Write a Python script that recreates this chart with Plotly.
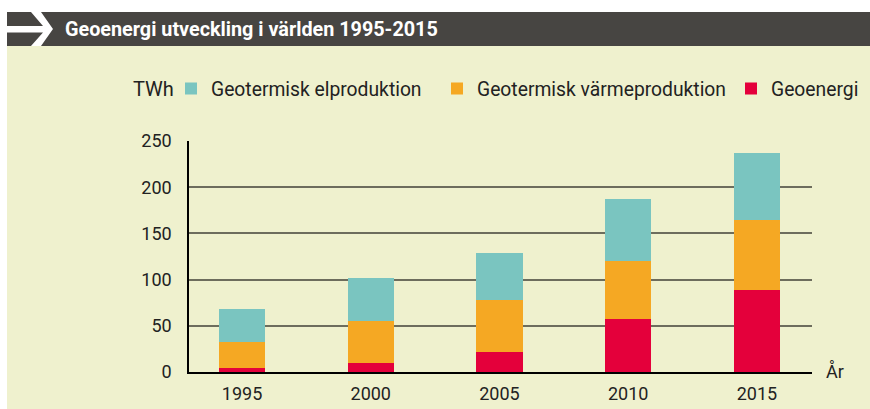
import plotly.graph_objects as go

years = [1995, 2000, 2005, 2010, 2015]
geoenergi = [4, 10, 22, 57, 89]
varme = [29, 45, 56, 63, 75]
el = [35, 47, 51, 67, 73]
series_names = ["Geoenergi", "Geotermisk värmeproduktion", "Geotermisk elproduktion"]
y_ticks = [0, 50, 100, 150, 200, 250]
title_text = "Geoenergi utveckling i världen 1995-2015"
unit_label = "TWh"
x_label = "År"

W, H = 870, 409
L, R, T, B = 189, 58, 141, 37
PW, PH = W - L - R, H - T - B

def px(x):
    return (x - L) / PW

def py(y):
    return (H - B - y) / PH

BG = "#EFF1CE"
FONT = "Roboto"
TXT = "#222222"

fig = go.Figure()
colors = ["#E4003B", "#F5A823", "#7AC5C0"]
legend_widths = [90, 249, 221]
for name, vals, c, lw in zip(series_names, [geoenergi, varme, el], colors, legend_widths):
    fig.add_trace(go.Bar(x=years, y=vals, name=name, marker=dict(color=c, line=dict(width=0)),
                         width=1.79, legendwidth=lw))

shapes = [
    dict(type="rect", xref="paper", yref="paper", x0=px(0), x1=px(W), y0=py(0), y1=py(12),
         fillcolor="white", line=dict(width=0), layer="above"),
    dict(type="rect", xref="paper", yref="paper", x0=px(0), x1=px(7), y0=py(0), y1=py(H),
         fillcolor="white", line=dict(width=0), layer="above"),
    dict(type="rect", xref="paper", yref="paper", x0=px(7), x1=px(W), y0=py(12), y1=py(46),
         fillcolor="#474542", line=dict(width=0), layer="above"),
]
# arrow
arrow_pts = [(7, 26), (43, 26), (31, 12), (41, 12), (53, 29), (41, 46), (31, 46), (43, 32.5), (7, 32.5)]
path = "M " + " L ".join(f"{px(a):.5f},{py(b):.5f}" for a, b in arrow_pts) + " Z"
shapes.append(dict(type="path", xref="paper", yref="paper", path=path, fillcolor="white",
                   line=dict(width=0), layer="above"))

fig.update_layout(
    width=W, height=H,
    margin=dict(l=L, r=R, t=T, b=B, autoexpand=False),
    paper_bgcolor=BG, plot_bgcolor=BG,
    barmode="stack",
    bargap=0,
    font=dict(family=FONT, size=18, color=TXT),
    shapes=shapes,
    showlegend=True,
    legend=dict(orientation="h", traceorder="reversed", x=px(171), xanchor="left",
                y=py(89), yanchor="middle", bgcolor="rgba(0,0,0,0)",
                font=dict(family=FONT, size=19.3, color=TXT),
                itemclick=False),
    annotations=[
        dict(text=f"<b>{title_text}</b>", xref="paper", yref="paper", x=px(63), y=py(29),
             xanchor="left", yanchor="middle", showarrow=False,
             font=dict(family=FONT, size=19.8, color="white")),
        dict(text=unit_label, xref="paper", yref="paper", x=px(131), y=py(89),
             xanchor="left", yanchor="middle", showarrow=False,
             font=dict(family=FONT, size=20, color=TXT)),
        dict(text=x_label, xref="paper", yref="paper", x=px(824), y=py(371),
             xanchor="left", yanchor="middle", showarrow=False,
             font=dict(family=FONT, size=18, color=TXT)),
    ],
    xaxis=dict(range=[1992.94, 2017.14], tickvals=years, ticktext=[str(y) for y in years],
               showgrid=False, showline=True, linecolor="black", linewidth=2,
               ticks="", ticklabelstandoff=4, zeroline=False, fixedrange=True),
    yaxis=dict(range=[0, 250], tickvals=y_ticks, showgrid=True, gridcolor="#6d6d5d",
               gridwidth=1.5, showline=True, linecolor="black", linewidth=1.5,
               ticks="", ticklabelstandoff=12, zeroline=False, fixedrange=True),
)

fig.write_html("out.html", config={"displayModeBar": False},
               post_script="document.body.style.margin='0';")
